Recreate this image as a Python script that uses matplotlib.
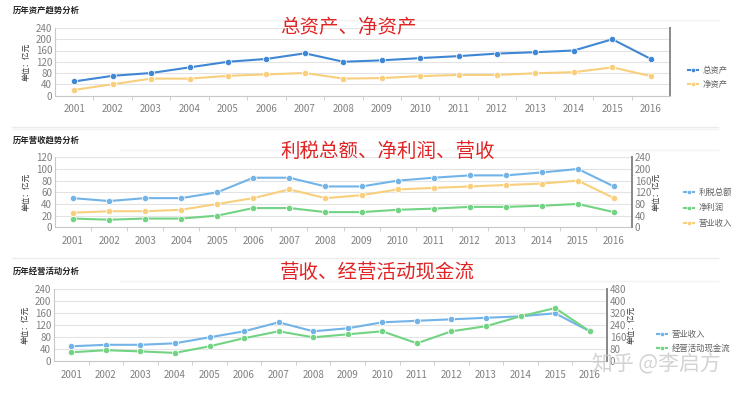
import matplotlib
matplotlib.use("Agg")
import matplotlib.pyplot as plt
from matplotlib.lines import Line2D

plt.rcParams['font.family'] = ['Noto Sans CJK SC', 'DejaVu Sans']

years = [str(y) for y in range(2001, 2017)]

# Panel 1: assets
total_assets = [50, 70, 80, 100, 120, 130, 150, 120, 125, 133, 140, 149, 154, 160, 200, 130]
net_assets = [20, 40, 60, 60, 70, 75, 80, 60, 62, 69, 73, 73, 79, 83, 100, 69]

# Panel 2: profit / revenue
profit_tax = [50, 45, 50, 50, 60, 85, 85, 70, 70, 80, 85, 89, 89, 94, 100, 70]
net_profit = [15, 13, 15, 15, 20, 33, 33, 26, 26, 30, 32, 35, 35, 37, 40, 26]
revenue = [50, 55, 55, 60, 80, 100, 130, 100, 110, 130, 135, 140, 145, 150, 160, 100]

# Panel 3: revenue / operating cash flow (cash flow on right axis)
op_cash_flow = [60, 74, 66, 56, 100, 154, 200, 160, 180, 200, 120, 200, 234, 300, 355, 200]

W, H = 750, 393
fig = plt.figure(figsize=(W / 100, H / 100), dpi=100)
fig.patch.set_facecolor('white')

BLUE1 = '#3f87d4'
ORANGE = '#f8cf7c'
BLUE2 = '#72b3e8'
GREEN = '#72d383'
GRID = '#e3e3e3'
TICK = '#808080'


def rect(left, right, top, bottom):
    return [left / W, 1 - bottom / H, (right - left) / W, (bottom - top) / H]


def style_axis(ax, ymax, step, right_dark=True):
    x = list(range(len(years)))
    ax.set_xlim(-0.5, len(years) - 0.5)
    ax.set_ylim(0, ymax)
    ax.set_yticks(range(0, ymax + 1, step))
    ax.set_xticks(x)
    ax.set_xticklabels(years)
    ax.set_xticks([i + 0.5 for i in range(len(years) - 1)], minor=True)
    ax.tick_params(axis='x', which='major', length=0, labelsize=7, colors=TICK, pad=6)
    ax.tick_params(axis='x', which='minor', length=3, color='#c8c8c8')
    ax.tick_params(axis='y', length=0, labelsize=7, colors=TICK, pad=2)
    ax.grid(axis='y', color=GRID, linewidth=0.8)
    ax.set_axisbelow(True)
    ax.spines['top'].set_visible(False)
    ax.spines['left'].set_color('#c8c8c8')
    ax.spines['bottom'].set_color('#c8c8c8')
    ax.spines['right'].set_color('#8a8a8a' if right_dark else '#c8c8c8')
    ax.spines['right'].set_linewidth(1.4 if right_dark else 0.8)
    ax.set_ylabel('单位：亿元', fontsize=5.5, color='#333333', labelpad=4)


def plot_series(ax, vals, color, label):
    x = list(range(len(vals)))
    return ax.plot(x, vals, color=color, lw=1.5, marker='o', ms=4.5,
                   mec='white', mew=0.5, label=label)[0]


def legend(ax, handles, x, y, spacing):
    ax.legend(handles=handles, loc='center left', bbox_to_anchor=(x / W, 1 - y / H),
              bbox_transform=fig.transFigure, frameon=False, fontsize=6,
              handlelength=1.2, handletextpad=0.6, labelspacing=spacing,
              labelcolor='#606060', markerscale=0.7)


def panel_title(text, y):
    fig.text(13 / W, 1 - y / H, text, fontsize=6, fontweight='bold', color='#222222',
             ha='left', va='center')


def big_title(text, x, y):
    fig.text(x / W, 1 - y / H, text, fontsize=14, color='#e02424', ha='left', va='center')


def hline(y, x0=12, x1=718, color='#ececec', lw=1.0):
    fig.add_artist(Line2D([x0 / W, x1 / W], [1 - y / H, 1 - y / H], color=color, lw=lw,
                          transform=fig.transFigure))


def right_axis(ax, ymax, step):
    r = ax.twinx()
    r.set_ylim(0, ymax)
    r.set_yticks(range(0, ymax + 1, step))
    r.tick_params(axis='y', length=0, labelsize=7, colors=TICK, pad=2)
    for s in ['top', 'left', 'bottom']:
        r.spines[s].set_visible(False)
    r.spines['right'].set_color('#8a8a8a')
    r.spines['right'].set_linewidth(1.4)
    r.set_ylabel('单位：亿元', fontsize=5.5, color='#333333', rotation=90, labelpad=1)
    return r


# ---- Panel 1
ax1 = fig.add_axes(rect(55, 670, 28, 95.5))
style_axis(ax1, 240, 40)
h1 = plot_series(ax1, total_assets, BLUE1, '总资产')
h2 = plot_series(ax1, net_assets, ORANGE, '净资产')
legend(ax1, [h1, h2], 680, 77.5, 0.6)
panel_title('历年资产趋势分析', 10)
big_title('总资产、净资产', 280, 27)
hline(20, 120, 718, '#f2f2f2')
hline(127)
hline(129, color='#f3f3f3')

# ---- Panel 2
ax2 = fig.add_axes(rect(55, 632, 157.3, 227.3))
style_axis(ax2, 120, 20)
ax2r = right_axis(ax2, 240, 40)
g1 = plot_series(ax2, profit_tax, BLUE2, '利税总额')
g2 = plot_series(ax2, net_profit, GREEN, '净利润')
g3 = plot_series(ax2r, revenue, ORANGE, '营业收入')
legend(ax2r, [g1, g2, g3], 676, 208, 0.75)
panel_title('历年营收趋势分析', 140)
big_title('利税总额、净利润、营收', 280, 151)
hline(150, 120, 718, '#f2f2f2')
hline(258)

# ---- Panel 3
ax3 = fig.add_axes(rect(54, 607, 289.3, 361.3))
style_axis(ax3, 240, 40)
ax3r = right_axis(ax3, 480, 80)
k1 = plot_series(ax3, revenue, BLUE2, '营业收入')
k2 = plot_series(ax3r, op_cash_flow, GREEN, '经营活动现金流')
legend(ax3r, [k1, k2], 649, 341, 0.6)
panel_title('历年经营活动分析', 271)
big_title('营收、经营活动现金流', 280, 272)
hline(281, 120, 718, '#f2f2f2')

# watermark
fig.text(592 / W, 1 - 364 / H, '知乎 @李启方', fontsize=15, color='#c8c8c8', alpha=0.8,
         ha='left', va='center')

fig.savefig('out.png', dpi=100)
